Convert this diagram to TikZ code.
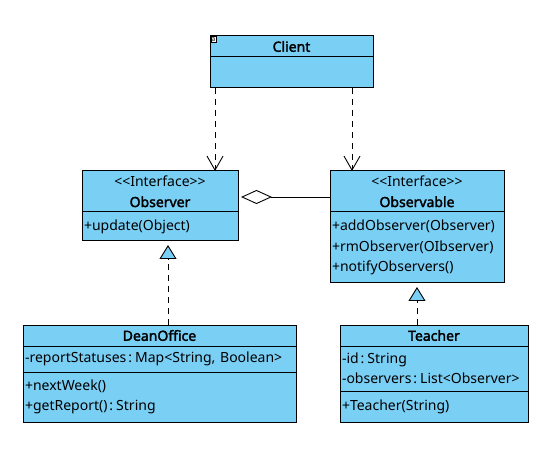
\documentclass[tikz,border=0pt]{standalone}
\usepackage{fontspec}
\setmainfont{Noto Sans}[AutoFakeBold=2.2]
\usetikzlibrary{arrows.meta}
\usetikzlibrary{positioning}

\definecolor{umlblue}{RGB}{122,207,245}
\newcommand{\stereo}[1]{<\kern0pt<#1>\kern0pt>}
\newcommand{\tcolon}{\kern2pt:\kern3pt}

\tikzset{
  classbox/.style={draw=black, fill=umlblue, line width=1pt, outer sep=0pt,
    inner xsep=2pt, inner ysep=0pt, font=\fontsize{14}{20.5}\selectfont},
  headbox/.style={classbox, align=center},
  partbox/.style={classbox, align=left, anchor=north},
  dep/.style={line width=0.9pt, dash pattern=on 6pt off 5pt,
    -{Straight Barb[length=14pt,width=16pt]}},
  real/.style={line width=0.9pt, dash pattern=on 6pt off 5pt,
    -{Triangle[length=14pt,width=17pt,fill=umlblue]}, shorten >=4pt},
  aggr/.style={line width=0.9pt, -{Diamond[open,length=31pt,width=14pt]}, shorten >=3pt}
}

\begin{document}
\begin{tikzpicture}[x=1pt,y=-1pt]
  \useasboundingbox (0,0) rectangle (546,454);

  % Client
  \node[headbox, minimum width=163pt, minimum height=21pt, anchor=north west] (clientHead) at (210,36) {\textbf{Client}};
  \node[partbox, minimum width=163pt, minimum height=31pt] (clientBody) at (clientHead.south) {};
  \node[draw, fill=white, line width=0.4pt, inner sep=0.6pt, anchor=north west,
    font=\fontsize{7}{7}\selectfont] (clientIcon) at ([shift={(0.5pt,-0.5pt)}]clientHead.north west) {a};

  % Observer
  \node[headbox, minimum width=156pt, minimum height=41pt, anchor=north west] (obsHead) at (82,171) {\stereo{Interface}\\\textbf{Observer}};
  \node[partbox, text width=152pt, minimum height=29pt] (obsOps) at (obsHead.south) {+update(Object)};

  % Observable
  \node[headbox, minimum width=174pt, minimum height=41pt, anchor=north west] (ableHead) at (330,171) {\stereo{Interface}\\\textbf{Observable}};
  \node[partbox, text width=170pt, minimum height=71pt] (ableOps) at (ableHead.south) {+addObserver(Observer)\\+rmObserver(OIbserver)\\+notifyObservers()};

  % DeanOffice
  \node[headbox, minimum width=273pt, minimum height=21pt, anchor=north west] (deanHead) at (23,325) {\textbf{DeanOffice}};
  \node[partbox, text width=269pt, minimum height=26pt] (deanAttr) at (deanHead.south) {-reportStatuses\tcolon Map<String, Boolean>};
  \node[partbox, text width=269pt, minimum height=50pt] (deanOps) at (deanAttr.south) {+nextWeek()\\+getReport()\tcolon String};

  % Teacher
  \node[headbox, minimum width=188pt, minimum height=21pt, anchor=north west] (teachHead) at (340,325) {\textbf{Teacher}};
  \node[partbox, text width=184pt, minimum height=45pt] (teachAttr) at (teachHead.south) {-id\tcolon String\\-observers\tcolon List<Observer>};
  \node[partbox, text width=184pt, minimum height=31pt] (teachOps) at (teachAttr.south) {+Teacher(String)};

  % connectors
  \coordinate (clientL) at ([xshift=5pt]clientBody.south west);
  \coordinate (clientR) at ([xshift=142pt]clientBody.south west);
  \draw[dep] (clientL) -- (clientL |- obsHead.north);
  \draw[dep] (clientR) -- (clientR |- ableHead.north);

  \draw[aggr] ([yshift=-5.5pt]ableHead.west) -- ([yshift=-5.5pt]obsHead.east);

  \coordinate (deanTop) at ([xshift=8.5pt]deanHead.north);
  \draw[real] (deanTop) -- (deanTop |- obsOps.south);
  \draw[real] (teachHead.north -| ableOps.south) -- (ableOps.south);
\end{tikzpicture}
\end{document}
